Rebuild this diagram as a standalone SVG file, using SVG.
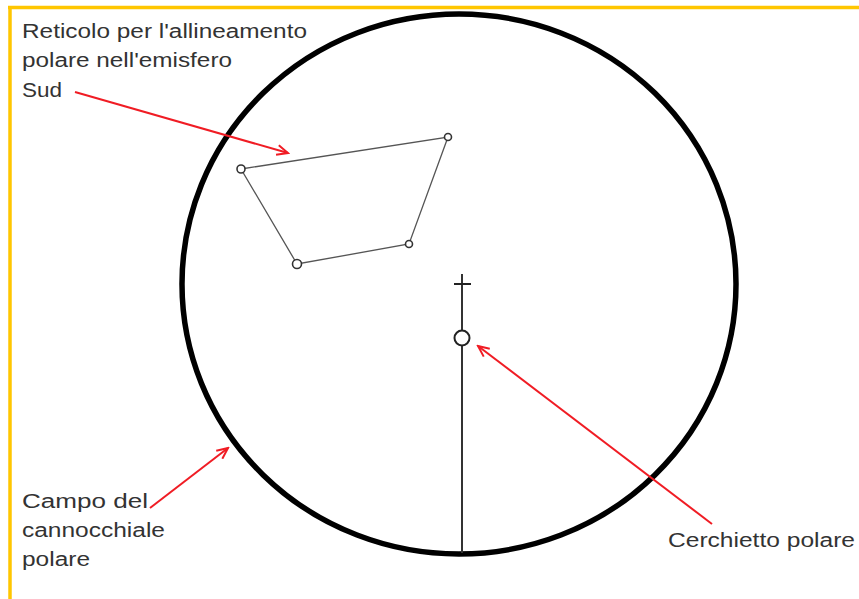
<svg xmlns="http://www.w3.org/2000/svg" width="859" height="599" viewBox="0 0 859 599">
<defs>
<style>
.lbl{font-family:"Liberation Sans",Arial,sans-serif;font-size:20px;fill:#333}
.red{stroke:#f01c24;stroke-width:2;fill:none}
.thin{stroke:#555;stroke-width:1.3;fill:none}
.dot{stroke:#333;stroke-width:1.6;fill:#fff}
</style>
<marker id="ah" markerWidth="14" markerHeight="12" refX="12" refY="6" orient="auto" markerUnits="userSpaceOnUse">
<path d="M1,1 L12,6 L1,11" fill="none" stroke="#f01c24" stroke-width="2"/>
</marker>
</defs>
<rect width="859" height="599" fill="#fff"/>
<g id="frame">
<line x1="8" y1="7.5" x2="859" y2="7.5" stroke="#ffc600" stroke-width="3.5"/>
<line x1="10" y1="6" x2="10" y2="599" stroke="#ffc600" stroke-width="3.5"/>
</g>
<g id="field">
<ellipse cx="459" cy="284" rx="277" ry="270" fill="none" stroke="#000" stroke-width="5.5"/>
</g>
<g id="reticle">
<polygon points="241,169 448,137 409,244 297,264" class="thin"/>
<circle cx="241" cy="169" r="4" class="dot"/>
<circle cx="448" cy="137" r="3.5" class="dot"/>
<circle cx="409" cy="244" r="3.5" class="dot"/>
<circle cx="297" cy="264" r="4.5" class="dot"/>
</g>
<g id="polar">
<line x1="462" y1="274" x2="462" y2="553" stroke="#333" stroke-width="2"/>
<line x1="454" y1="284" x2="471" y2="284" stroke="#222" stroke-width="2"/>
<circle cx="462" cy="338" r="7.5" fill="#fff" stroke="#222" stroke-width="2"/>
</g>
<g id="connectors">
<line x1="75" y1="92" x2="288" y2="153" class="red" marker-end="url(#ah)"/>
<line x1="150" y1="508" x2="228" y2="448" class="red" marker-end="url(#ah)"/>
<line x1="712" y1="524" x2="478" y2="346" class="red" marker-end="url(#ah)"/>
</g>
<g id="labels">
<text class="lbl" x="22" y="38" textLength="285" lengthAdjust="spacingAndGlyphs">Reticolo per l'allineamento</text>
<text class="lbl" x="22" y="67" textLength="210" lengthAdjust="spacingAndGlyphs">polare nell'emisfero</text>
<text class="lbl" x="22" y="97" textLength="40" lengthAdjust="spacingAndGlyphs">Sud</text>
<text class="lbl" x="22" y="508" textLength="126" lengthAdjust="spacingAndGlyphs">Campo del</text>
<text class="lbl" x="22" y="537" textLength="143" lengthAdjust="spacingAndGlyphs">cannocchiale</text>
<text class="lbl" x="22" y="566" textLength="68" lengthAdjust="spacingAndGlyphs">polare</text>
<text class="lbl" x="668" y="547" textLength="187" lengthAdjust="spacingAndGlyphs">Cerchietto polare</text>
</g>
</svg>
